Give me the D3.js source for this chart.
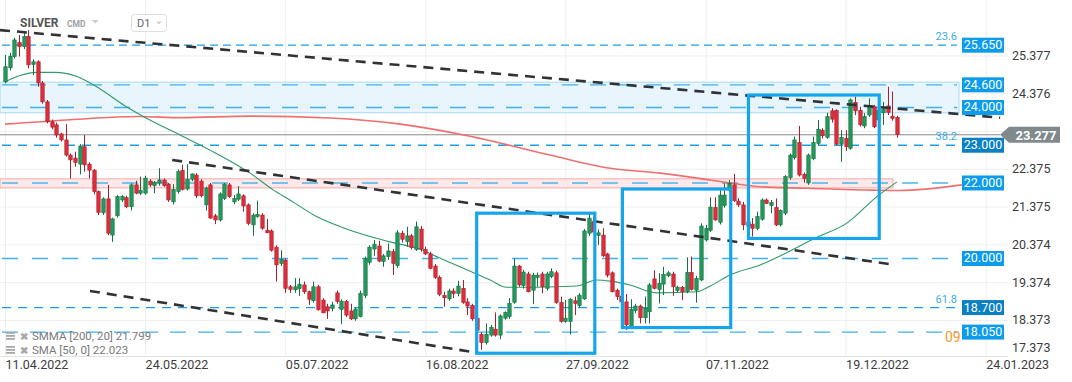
<!DOCTYPE html>
<html>
<head>
<meta charset="utf-8">
<script src="https://cdn.jsdelivr.net/npm/d3@7"></script>
<style>
body { margin: 0; background: #fff; }
svg { display: block; font-family: Roboto, "Open Sans", Arial, sans-serif; }
</style>
</head>
<body>
<div id="chart"></div>
<script>
// daily candles, SILVER D1 (index 0 = 11.04.2022)
var open = [
  24.68,25.05,25.35,25.72,25.61,25.88,25.14,25.21,24.65,24.15,
  23.62,23.54,23.30,23.14,22.74,22.66,22.50,22.96,22.50,22.34,
  21.77,21.21,21.58,20.62,21.13,21.55,21.61,21.37,21.95,21.73,
  21.73,22.05,21.93,22.00,22.08,21.97,21.50,21.77,22.33,21.84,
  22.10,22.21,22.05,21.42,21.95,21.13,21.02,21.59,21.95,21.50,
  21.57,21.66,21.42,20.89,21.11,21.15,20.75,20.73,20.30,19.87,
  19.96,19.25,19.17,19.20,19.30,19.12,18.88,19.25,18.90,18.72,
  18.68,19.09,18.65,18.86,18.61,18.40,18.46,19.02,19.90,20.25,
  20.33,19.92,20.05,20.18,19.81,20.67,20.45,20.60,20.24,20.78,
  20.24,20.12,19.80,19.50,19.02,18.93,19.14,19.07,19.21,18.85,
  18.76,18.42,17.99,17.77,17.97,18.13,17.97,18.42,18.46,18.84,
  19.80,19.28,19.59,19.16,19.50,19.59,19.21,19.52,19.62,18.83,
  18.33,18.33,18.88,18.75,18.93,20.67,20.97,20.61,20.62,20.12,
  19.62,19.16,19.00,18.85,18.19,18.62,18.74,18.43,18.59,19.46,
  19.18,19.32,19.54,19.59,19.15,19.24,19.12,19.63,19.16,19.43,
  20.49,20.74,21.35,20.96,21.40,21.81,21.95,21.52,21.42,20.86,
  20.91,20.80,21.04,21.55,21.40,21.35,20.89,21.20,22.14,22.67,
  23.07,22.23,22.00,22.64,23.05,23.40,23.21,23.91,23.92,23.03,
  23.18,22.92,24.13,23.92,23.51,23.80,24.02,23.67,23.86,24.04,
  23.77,23.74
];
var high = [
  25.39,25.45,25.85,25.92,26.00,26.05,25.28,25.25,24.70,24.20,
  23.68,23.60,23.33,23.56,22.78,22.83,23.03,23.27,22.55,22.37,
  21.80,21.62,21.95,21.08,21.68,21.68,21.66,21.99,22.06,22.17,
  22.19,22.10,22.05,22.39,22.12,22.00,21.97,22.36,22.48,22.50,
  22.25,22.26,22.10,21.90,22.00,21.18,21.75,22.00,22.00,21.68,
  21.92,21.70,21.46,21.20,21.53,21.20,21.05,20.77,20.35,20.22,
  20.00,19.30,19.48,19.48,19.39,19.15,19.39,19.30,18.95,18.80,
  18.85,19.15,18.92,18.90,18.80,18.70,19.15,20.05,20.35,20.49,
  20.47,20.12,20.40,20.25,20.75,20.73,20.84,20.65,20.98,20.86,
  20.31,20.18,19.85,19.55,19.12,19.20,19.21,19.41,19.43,18.95,
  18.80,18.50,18.05,18.28,18.24,18.57,18.52,18.60,18.95,20.00,
  19.83,19.70,19.65,19.62,19.63,19.65,19.65,19.74,19.68,18.99,
  18.90,18.95,18.99,19.08,20.78,21.18,21.10,20.77,20.80,20.15,
  19.66,19.20,19.05,19.06,18.92,18.80,18.78,18.99,19.35,19.69,
  19.61,19.78,19.67,19.65,19.28,19.27,20.03,20.05,19.54,20.93,
  20.89,21.62,21.62,21.81,21.99,22.08,22.24,21.60,21.50,21.00,
  21.07,21.24,21.59,21.59,21.55,21.59,21.30,22.21,22.78,23.23,
  23.51,22.28,22.78,23.23,23.67,23.45,23.86,23.98,23.95,23.40,
  23.40,24.24,24.29,24.02,23.85,24.24,24.07,23.95,24.15,24.55,
  24.42,23.78
];
var low = [
  24.64,24.98,25.30,25.35,25.55,25.04,24.86,24.55,24.10,23.58,
  23.42,23.20,23.10,22.70,22.12,22.43,22.23,22.30,22.12,21.70,
  21.15,21.15,20.62,20.44,21.08,21.50,21.33,21.27,21.70,21.68,
  21.69,21.90,21.73,21.93,21.90,21.50,21.43,21.72,21.80,21.80,
  22.05,21.60,21.62,21.27,21.05,20.91,20.98,21.55,21.60,21.44,
  21.52,21.24,20.88,20.60,21.08,20.76,20.68,20.18,19.39,19.80,
  19.09,19.09,19.09,19.01,19.06,18.77,18.83,18.62,18.55,18.40,
  18.60,18.80,18.26,18.45,18.37,18.35,18.44,18.95,19.83,20.07,
  19.90,19.78,19.96,19.56,19.75,20.42,20.31,20.24,20.20,20.18,
  20.09,19.71,19.46,19.00,18.72,18.88,18.95,19.00,18.80,18.50,
  18.35,18.05,17.58,17.72,17.93,17.93,17.86,18.38,18.40,18.80,
  19.25,19.20,19.10,18.79,19.25,19.08,19.15,19.48,18.80,18.30,
  18.30,17.99,18.50,18.70,18.90,20.60,20.70,20.36,20.04,19.50,
  19.10,18.90,18.80,18.11,18.15,18.55,18.28,18.28,18.28,19.18,
  18.81,19.03,19.50,19.01,19.10,18.90,19.08,19.15,18.83,19.40,
  20.45,20.70,21.00,20.90,21.35,21.75,21.50,21.37,20.75,20.75,
  20.58,20.75,21.00,21.44,21.20,20.86,20.85,21.15,22.08,22.62,
  22.17,22.01,21.95,22.60,23.00,23.18,23.17,23.60,23.00,22.56,
  22.85,22.88,23.80,23.50,23.45,23.75,23.45,23.50,23.54,23.80,
  23.65,23.20
];
var close = [
  25.08,25.36,25.79,25.61,25.88,25.13,25.21,24.65,24.15,23.62,
  23.48,23.27,23.14,22.74,22.61,22.54,22.98,22.48,22.34,21.77,
  21.22,21.58,20.67,21.05,21.64,21.64,21.37,21.95,21.73,21.81,
  22.13,21.95,22.02,22.08,21.93,21.55,21.83,22.30,21.83,22.10,
  22.24,21.66,21.66,21.87,21.07,21.02,21.71,21.97,21.64,21.59,
  21.71,21.39,20.93,21.15,21.17,20.80,20.68,20.22,19.83,19.98,
  19.21,19.18,19.25,19.32,19.12,18.92,19.25,18.64,18.56,18.61,
  18.77,18.86,18.87,18.50,18.40,18.66,19.08,20.00,20.30,20.38,
  19.93,20.07,20.20,19.87,20.68,20.51,20.60,20.29,20.84,20.25,
  20.12,19.74,19.50,19.05,18.96,19.14,19.07,19.27,18.83,18.74,
  18.40,18.10,17.77,17.99,18.18,17.97,18.48,18.57,18.81,19.80,
  19.30,19.64,19.12,19.56,19.56,19.25,19.59,19.65,18.83,18.33,
  18.42,18.92,18.81,19.03,20.73,21.07,20.70,20.68,20.07,19.56,
  19.12,18.99,18.85,18.24,18.65,18.74,18.43,18.68,19.30,19.21,
  19.34,19.58,19.62,19.25,19.24,19.12,19.63,19.18,19.47,20.86,
  20.80,21.36,21.02,21.68,21.68,21.99,21.53,21.42,20.89,20.97,
  20.80,21.11,21.55,21.46,21.48,20.89,21.27,22.17,22.74,23.14,
  22.21,22.12,22.74,23.07,23.42,23.25,23.76,23.69,23.03,23.21,
  22.96,24.20,23.91,23.54,23.76,24.04,23.49,23.93,23.95,23.87,
  23.71,23.28
];

// moving averages: [candle index, value]
var smaPoints = [
  [0,24.68],[6.8,24.93],[10.7,24.93],[15.4,24.82],[19.6,24.55],[26,24.02],
  [29.6,23.76],[37.5,23.27],[43.9,22.87],[52.5,22.26],[57.5,21.81],[61,21.55],
  [66.7,21.11],[73.9,20.75],[82.4,20.44],[89.5,20.22],[93.1,20.01],[98.9,19.70],
  [103.9,19.43],[107.4,19.24],[113.9,19.24],[122.4,19.27],[126.7,19.43],[129.6,19.40],
  [133.8,19.30],[139.5,19.09],[148.1,19.12],[151,19.27],[155.2,19.56],[161.7,19.83],
  [174.2,20.58],[180.2,20.93],[186.7,21.64],[191,22.03]
];
var smmaPoints = [
  [0,23.56],[13.2,23.67],[28.9,23.76],[37.5,23.73],[52.5,23.77],[69.6,23.72],
  [84.6,23.56],[99.6,23.24],[116.7,22.74],[129.6,22.39],[140.3,22.26],[151,22.08],
  [161.7,21.90],[171.7,21.86],[185.9,21.81],[191.6,21.80],[204.9,21.95]
];

var tickIndex = [0, 30, 60, 90, 120, 150, 180, 210];
var tickLabels = ["11.04.2022", "24.05.2022", "05.07.2022", "16.08.2022",
                  "27.09.2022", "07.11.2022", "19.12.2022", "24.01.2023"];
// 23.376 sits under the current price tag, so it only gets a grid line
var gridTicks = [25.377, 24.376, 23.376, 22.375, 21.375, 20.374, 19.374, 18.373];
var yTicks = [25.377, 24.376, 22.375, 21.375, 20.374, 19.374, 18.373, 17.373];

var levels = [25.650, 24.600, 24.000, 23.000, 22.000, 20.000, 18.700, 18.050];
var fibLevels = [25.650, 23.000, 18.700];
var fibLabels = ["23.6", "38.2", "61.8"];
var lastPrice = 23.277;
var smaLast = 22.023, smmaLast = 21.799;

var blueZone = [23.86, 24.67];
var redZone = [21.87, 22.11];
// trend lines: [[idx, price], [idx, price]]
var trendLines = [
  [[-1.07, 26.05], [213.1, 23.73]],
  [[35.8, 22.61], [190.6, 19.83]],
  [[18.2, 19.14], [101.3, 17.50]]
];
// boxes: [idx from, idx to, price low, price high]
var boxes = [
  [101.0, 126.3, 17.49, 21.20],
  [132.2, 155.4, 18.17, 21.84],
  [159.2, 187.2, 20.53, 24.33]
];

var width = 1072, height = 382;

var svg = d3.select("#chart").append("svg")
    .attr("width", width)
    .attr("height", height);

var x = d3.scaleLinear().domain([0, 210]).range([5, 985.7]);
var y = d3.scaleLinear().domain([17.417, 26.847]).range([356, 0]);

// grid
svg.append("g")
    .attr("class", "grid")
    .call(d3.axisLeft(y).tickValues(gridTicks).tickSize(-1008).tickFormat(""))
    .call(function (g) { g.select(".domain").remove(); })
    .selectAll("line").attr("stroke", "#eeeeee");

svg.append("g")
    .attr("class", "grid")
    .attr("transform", "translate(0,356)")
    .call(d3.axisBottom(x).tickValues(tickIndex).tickSize(-356).tickFormat(""))
    .call(function (g) { g.select(".domain").remove(); })
    .selectAll("line").attr("stroke", "#eeeeee");

svg.append("line")
    .attr("x1", 0).attr("x2", 1008)
    .attr("y1", 356.5).attr("y2", 356.5)
    .attr("stroke", "#e4e4e4");

// zones
svg.append("rect")
    .attr("x", 0).attr("width", 959)
    .attr("y", y(blueZone[1])).attr("height", y(blueZone[0]) - y(blueZone[1]))
    .attr("fill", "#e8f5fc").attr("stroke", "#a6daf4").attr("stroke-width", 1);

svg.append("rect")
    .attr("x", 0).attr("width", 893)
    .attr("y", y(redZone[1])).attr("height", y(redZone[0]) - y(redZone[1]))
    .attr("fill", "#fde9e9").attr("stroke", "#f2a9a9").attr("stroke-width", 1);

// horizontal levels
var levelStyle = {
  "25.65": { dash: "8,5", color: "#1c9ee4" },
  "24.6":  { dash: "16,12", color: "#3fb1ec" },
  "24":    { dash: "16,12", color: "#3fb1ec" },
  "23":    { dash: "9,7", color: "#1c9ee4" },
  "22":    { dash: "16,14", color: "#4ab5ec" },
  "20":    { dash: "16,14", color: "#3fb1ec" },
  "18.7":  { dash: "9,7", color: "#1c9ee4" },
  "18.05": { dash: "16,12", color: "#3fb1ec" }
};

svg.selectAll(".level")
    .data(levels)
    .enter().append("line")
    .attr("class", "level")
    .attr("x1", 2).attr("x2", 957)
    .attr("y1", function (d) { return y(d); })
    .attr("y2", function (d) { return y(d); })
    .attr("stroke", function (d) { return levelStyle[String(d)].color; })
    .attr("stroke-width", 1.3)
    .attr("stroke-dasharray", function (d) { return levelStyle[String(d)].dash; });

// current price line
svg.append("line")
    .attr("x1", 0).attr("x2", 1000)
    .attr("y1", y(lastPrice)).attr("y2", y(lastPrice))
    .attr("stroke", "#8c8c8c").attr("stroke-width", 1);

// moving averages
var maLine = d3.line()
    .x(function (d) { return x(d[0]); })
    .y(function (d) { return y(d[1]); })
    .curve(d3.curveMonotoneX);

svg.append("path")
    .datum(smmaPoints)
    .attr("d", maLine)
    .attr("fill", "none")
    .attr("stroke", "#ee6f6f")
    .attr("stroke-width", 1.6);

svg.append("path")
    .datum(smaPoints)
    .attr("d", maLine)
    .attr("fill", "none")
    .attr("stroke", "#2e9a68")
    .attr("stroke-width", 1.1);

// candles
var candles = d3.range(open.length);
var up = "#23995d", upDark = "#17703f", dn = "#de2d3b", dnDark = "#a91f2b";

svg.selectAll(".wick")
    .data(candles)
    .enter().append("line")
    .attr("class", "wick")
    .attr("x1", function (i) { return Math.round(x(i)) + 0.5; })
    .attr("x2", function (i) { return Math.round(x(i)) + 0.5; })
    .attr("y1", function (i) { return y(high[i]); })
    .attr("y2", function (i) { return y(low[i]); })
    .attr("stroke", function (i) { return close[i] >= open[i] ? upDark : dnDark; })
    .attr("stroke-width", 1);

svg.selectAll(".body")
    .data(candles)
    .enter().append("rect")
    .attr("class", "body")
    .attr("x", function (i) { return Math.round(x(i)) - 1.2; })
    .attr("width", 3.4)
    .attr("y", function (i) { return y(Math.max(open[i], close[i])); })
    .attr("height", function (i) { return Math.max(1.2, Math.abs(y(open[i]) - y(close[i]))); })
    .attr("fill", function (i) { return close[i] >= open[i] ? up : dn; })
    .attr("stroke", function (i) { return close[i] >= open[i] ? upDark : dnDark; })
    .attr("stroke-width", 0.6);

// trend lines
svg.selectAll(".trend")
    .data(trendLines)
    .enter().append("line")
    .attr("class", "trend")
    .attr("x1", function (d) { return x(d[0][0]); })
    .attr("y1", function (d) { return y(d[0][1]); })
    .attr("x2", function (d) { return x(d[1][0]); })
    .attr("y2", function (d) { return y(d[1][1]); })
    .attr("stroke", "#2f3336")
    .attr("stroke-width", 2.6)
    .attr("stroke-dasharray", "10,7");

// boxes
svg.selectAll(".box")
    .data(boxes)
    .enter().append("rect")
    .attr("class", "box")
    .attr("x", function (d) { return x(d[0]); })
    .attr("width", function (d) { return x(d[1]) - x(d[0]); })
    .attr("y", function (d) { return y(d[3]); })
    .attr("height", function (d) { return y(d[2]) - y(d[3]); })
    .attr("fill", "none")
    .attr("stroke", "#14a5ec")
    .attr("stroke-width", 3.2);

// fib labels
svg.selectAll(".fib")
    .data(fibLevels)
    .enter().append("text")
    .attr("class", "fib")
    .attr("x", 957)
    .attr("y", function (d) { return y(d) - 5; })
    .attr("text-anchor", "end")
    .attr("font-size", "11px")
    .attr("fill", "#3aaee8")
    .text(function (d, i) { return fibLabels[i]; });

// countdown text, only its start shows left of the 18.050 tag
svg.append("text")
    .attr("x", 945).attr("y", y(18.05) + 10)
    .attr("font-size", "14px")
    .attr("fill", "#f39a2c")
    .text("09");

// y axis labels
var yAxisG = svg.append("g")
    .attr("transform", "translate(1012,0)")
    .call(d3.axisRight(y).tickValues(yTicks).tickSize(0).tickPadding(0).tickFormat(d3.format(".3f")));
yAxisG.select(".domain").remove();
yAxisG.selectAll("text")
    .attr("font-size", "12.5px")
    .attr("font-family", "Roboto, Arial, sans-serif")
    .attr("fill", "#3c3c3c")
    .attr("transform", function (d) { return y(d) > 350 ? "translate(0,-10)" : null; });

// x axis labels
var xAxisG = svg.append("g")
    .attr("transform", "translate(0,356)")
    .call(d3.axisBottom(x).tickValues(tickIndex).tickSize(0).tickPadding(4)
        .tickFormat(function (d, i) { return tickLabels[i]; }));
xAxisG.select(".domain").remove();
xAxisG.selectAll("text")
    .attr("text-anchor", "start")
    .attr("font-size", "12.5px")
    .attr("font-family", "Roboto, Arial, sans-serif")
    .attr("fill", "#3c3c3c");

// level tags
var darkTags = [23.000, 18.700];
var tags = svg.selectAll(".tag")
    .data(levels)
    .enter().append("g")
    .attr("class", "tag")
    .attr("transform", function (d) { return "translate(962," + (y(d) - 7.5) + ")"; });
tags.append("rect")
    .attr("width", 42).attr("height", 15)
    .attr("fill", function (d) { return darkTags.indexOf(d) >= 0 ? "#0b7fc4" : "#0d9cec"; });
tags.append("text")
    .attr("x", 21).attr("y", 11.5)
    .attr("text-anchor", "middle")
    .attr("font-size", "12.5px")
    .attr("fill", "#fff")
    .text(function (d) { return d3.format(".3f")(d); });

// current price tag
var yl = y(lastPrice);
svg.append("path")
    .attr("d", "M1000," + yl + " L1009," + (yl - 8) + " L1060," + (yl - 8) +
               " L1060," + (yl + 8) + " L1009," + (yl + 8) + " Z")
    .attr("fill", "#80898c");
svg.append("text")
    .attr("x", 1036).attr("y", yl + 5)
    .attr("text-anchor", "middle")
    .attr("font-size", "13px")
    .attr("font-weight", "bold")
    .attr("fill", "#fff")
    .text(d3.format(".3f")(lastPrice));

// header
svg.append("text").attr("x", 20).attr("y", 27)
    .attr("font-size", "12px").attr("font-weight", "bold").attr("fill", "#555")
    .text("SILVER");
svg.append("text").attr("x", 67).attr("y", 27)
    .attr("font-size", "8.5px").attr("font-weight", "bold").attr("fill", "#a0a0a0")
    .text("CMD");
svg.append("path").attr("d", "M91.5,20 L99,20 L95.25,23.5 Z").attr("fill", "#cfcfcf");
svg.append("rect").attr("x", 131.5).attr("y", 14.5).attr("width", 35).attr("height", 17)
    .attr("rx", 3).attr("fill", "#fff").attr("stroke", "#dddddd");
svg.append("text").attr("x", 137).attr("y", 27)
    .attr("font-size", "11px").attr("fill", "#666").text("D1");
svg.append("path").attr("d", "M156,21.5 L162,21.5 L159,24.5 Z").attr("fill", "#cfcfcf");

// legend
var legend = [
  "SMMA [200, 20] " + d3.format(".3f")(smmaLast),
  "SMA [50, 0] " + d3.format(".3f")(smaLast)
];
var lg = svg.selectAll(".legend")
    .data(legend)
    .enter().append("g")
    .attr("class", "legend")
    .attr("transform", function (d, i) { return "translate(6," + (336 + i * 14) + ")"; });
lg.each(function () {
  var g = d3.select(this);
  [-4, -1, 2].forEach(function (dy) {
    g.append("rect").attr("x", 0).attr("y", dy).attr("width", 9).attr("height", 1.8).attr("fill", "#a8a8a8");
  });
  g.append("text").attr("x", 14).attr("y", 4).attr("font-size", "10px")
      .attr("font-weight", "bold").attr("fill", "#a8a8a8").text("\u2716");
});
lg.append("text")
    .attr("x", 26).attr("y", 4)
    .attr("font-size", "11.5px")
    .attr("fill", "#7a7a7a")
    .text(function (d) { return d; });
</script>
</body>
</html>
